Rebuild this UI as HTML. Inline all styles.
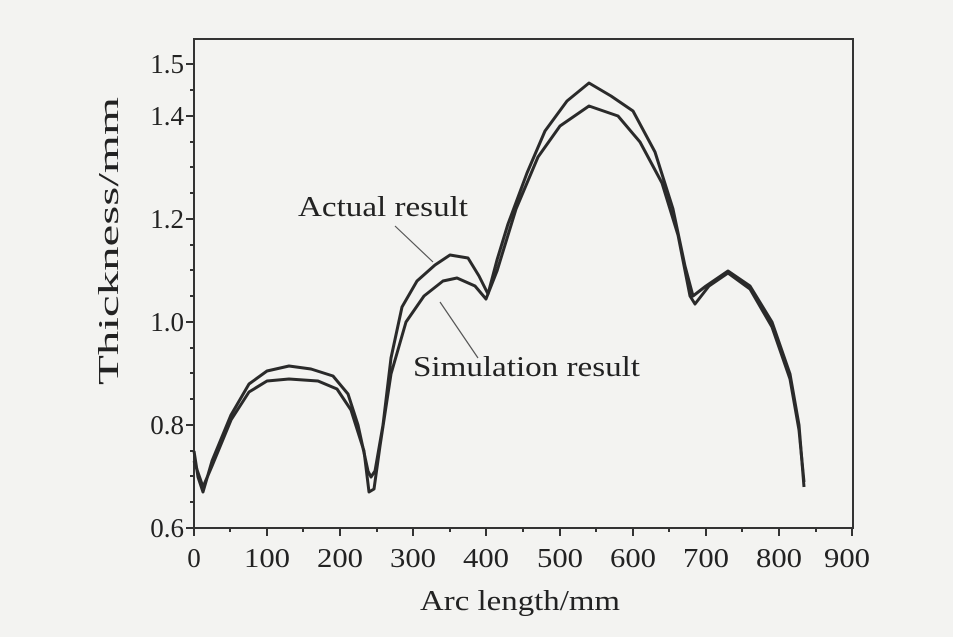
<!DOCTYPE html>
<html><head><meta charset="utf-8"><style>
body{margin:0;background:#f3f3f1;}
svg{display:block;font-family:"Liberation Serif",serif;}
</style></head><body>
<svg width="953" height="637" viewBox="0 0 953 637" xmlns="http://www.w3.org/2000/svg">
<rect width="953" height="637" fill="#f3f3f1"/>
<rect x="194" y="39" width="659" height="489" fill="none" stroke="#333" stroke-width="2"/>
<g stroke="#333" stroke-width="2">
<line x1="194" y1="528" x2="194" y2="536"/><line x1="267" y1="528" x2="267" y2="536"/><line x1="340" y1="528" x2="340" y2="536"/><line x1="413" y1="528" x2="413" y2="536"/><line x1="486" y1="528" x2="486" y2="536"/><line x1="560" y1="528" x2="560" y2="536"/><line x1="633" y1="528" x2="633" y2="536"/><line x1="706" y1="528" x2="706" y2="536"/><line x1="779" y1="528" x2="779" y2="536"/><line x1="852" y1="528" x2="852" y2="536"/>
<line x1="230" y1="528" x2="230" y2="532"/><line x1="303" y1="528" x2="303" y2="532"/><line x1="377" y1="528" x2="377" y2="532"/><line x1="450" y1="528" x2="450" y2="532"/><line x1="523" y1="528" x2="523" y2="532"/><line x1="596" y1="528" x2="596" y2="532"/><line x1="669" y1="528" x2="669" y2="532"/><line x1="742" y1="528" x2="742" y2="532"/><line x1="816" y1="528" x2="816" y2="532"/>
<line x1="186" y1="528" x2="194" y2="528"/><line x1="186" y1="425" x2="194" y2="425"/><line x1="186" y1="322" x2="194" y2="322"/><line x1="186" y1="219" x2="194" y2="219"/><line x1="186" y1="116" x2="194" y2="116"/><line x1="186" y1="64" x2="194" y2="64"/>
<line x1="190" y1="502" x2="194" y2="502"/><line x1="190" y1="476" x2="194" y2="476"/><line x1="190" y1="451" x2="194" y2="451"/><line x1="190" y1="399" x2="194" y2="399"/><line x1="190" y1="373" x2="194" y2="373"/><line x1="190" y1="348" x2="194" y2="348"/><line x1="190" y1="296" x2="194" y2="296"/><line x1="190" y1="270" x2="194" y2="270"/><line x1="190" y1="245" x2="194" y2="245"/><line x1="190" y1="193" x2="194" y2="193"/><line x1="190" y1="167" x2="194" y2="167"/><line x1="190" y1="142" x2="194" y2="142"/><line x1="190" y1="90" x2="194" y2="90"/>
</g>
<g font-size="27" fill="#222" text-anchor="middle">
<text x="194" y="567">0</text><text x="267" y="567" textLength="46" lengthAdjust="spacingAndGlyphs">100</text><text x="340" y="567" textLength="46" lengthAdjust="spacingAndGlyphs">200</text><text x="413" y="567" textLength="46" lengthAdjust="spacingAndGlyphs">300</text><text x="486" y="567" textLength="46" lengthAdjust="spacingAndGlyphs">400</text><text x="560" y="567" textLength="46" lengthAdjust="spacingAndGlyphs">500</text><text x="633" y="567" textLength="46" lengthAdjust="spacingAndGlyphs">600</text><text x="706" y="567" textLength="46" lengthAdjust="spacingAndGlyphs">700</text><text x="779" y="567" textLength="46" lengthAdjust="spacingAndGlyphs">800</text><text x="847" y="567" textLength="46" lengthAdjust="spacingAndGlyphs">900</text>
</g>
<g font-size="27" fill="#222" text-anchor="end">
<text x="184" y="537">0.6</text><text x="184" y="434">0.8</text><text x="184" y="331">1.0</text><text x="184" y="228">1.2</text><text x="184" y="125">1.4</text><text x="184" y="73">1.5</text>
</g>
<text x="420" y="610" font-size="28" fill="#222" textLength="200" lengthAdjust="spacingAndGlyphs">Arc length/mm</text>
<text transform="translate(118,385) rotate(-90)" font-size="28" fill="#222" textLength="288" lengthAdjust="spacingAndGlyphs">Thickness/mm</text>
<g fill="none" stroke="#2a2a2a" stroke-width="3" stroke-linejoin="round">
<polyline points="194,451 198,477 203,492 212,461 231,415 249,384 267,371 289,366 311,369 333,376 348,394 358,425 368,471 371,477 375,471 383,425 391,358 402,307 417,281 435,265 450,255 468,258 479,276 488,294 497,260 508,224 527,173 545,131 567,101 589,83 611,96 633,111 655,152 673,209 685,266 693,296 706,286 728,271 750,286 772,322 790,374 799,425 804,487"/>
<polyline points="194,461 203,487 212,466 231,420 249,392 267,381 289,379 318,381 337,389 351,410 364,451 369,492 374,489 380,446 391,374 406,322 424,296 443,281 457,278 475,286 486,299 497,271 516,209 538,157 560,126 589,106 618,116 640,142 662,183 678,235 690,296 695,304 709,286 728,273 750,289 772,327 790,379 799,430 804,482"/>
</g>
<g stroke="#555" stroke-width="1.2"><line x1="395" y1="226" x2="433" y2="262"/><line x1="478" y1="358" x2="440" y2="302"/></g>
<text x="298" y="216" font-size="28" fill="#222" textLength="170" lengthAdjust="spacingAndGlyphs">Actual result</text>
<text x="413" y="376" font-size="28" fill="#222" textLength="227" lengthAdjust="spacingAndGlyphs">Simulation result</text>
</svg>
</body></html>
